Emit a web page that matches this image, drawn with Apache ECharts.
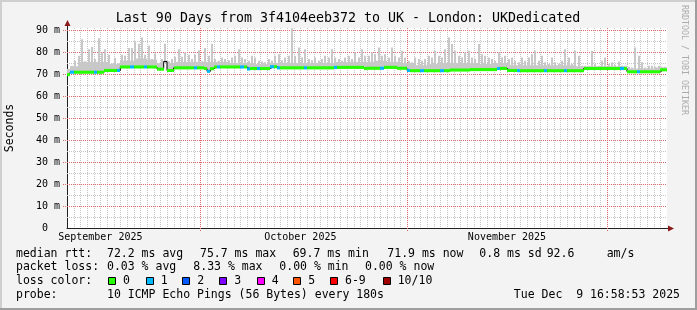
<!DOCTYPE html>
<html><head><meta charset="utf-8">
<script src="https://cdn.jsdelivr.net/npm/echarts@6/dist/echarts.min.js"></script>
<style>html,body{margin:0;padding:0;background:#f3f3f3}#c{width:697px;height:310px}</style>
</head><body><div id="c"></div><script>
// ---- time axis (days counted from Sep 1 2025 00:00) ----
const startDay = 10;     // Sep 11
const endDay = 100;      // Dec 10
const slotDays = 0.5;    // consolidation step of the rtt data below
const floorDays = 2;     // step of the smoke floor data
const monthLabels = ['September 2025', 'October 2025', 'November 2025'];
const monthLabelDays = [15, 45, 76];
const monthStartDays = [30, 61, 91];
const yGridTicks = [5, 10, 15, 20, 25, 30, 35, 40, 45, 50, 55, 60, 65, 70, 75, 80, 85, 90];
const yMajorTicks = [10, 20, 30, 40, 50, 60, 70, 80, 90];

// ---- values (ms) ----
const medianRtt = [
69.7,70.8,70.8,70.8,70.8,70.8,70.8,70.8,70.8,70.8,
70.8,71.6,71.6,71.6,71.6,71.6,73.2,73.2,73.2,73.2,
73.2,73.2,73.2,73.2,73.2,73.2,73.2,72.2,72.2,75.7,
71.6,71.6,72.8,72.8,72.8,72.8,72.8,72.8,72.8,72.8,
72.8,72.5,71.2,72.4,73.2,73.2,73.2,73.2,73.2,73.2,
73.2,73.2,73.2,73.2,72.3,72.5,72.5,72.5,72.5,72.5,
72.5,73.3,73.3,72.8,72.8,72.8,72.8,72.8,72.8,72.8,
72.8,72.8,72.8,72.8,72.8,72.8,72.8,72.8,72.8,72.8,
73.0,73.0,73.0,73.0,73.0,73.0,73.0,73.0,73.0,72.5,
72.6,72.6,72.6,72.6,72.6,73.0,73.0,73.0,73.0,72.6,
72.6,72.6,71.6,71.5,71.5,71.5,71.5,71.5,71.5,71.5,
71.5,71.5,71.5,71.5,71.5,71.8,71.8,71.8,71.8,71.8,
71.8,72.0,72.0,72.0,72.0,72.0,72.0,72.0,72.0,72.5,
72.5,72.5,71.6,71.6,71.6,71.5,71.5,71.5,71.5,71.5,
71.5,71.5,71.5,71.5,71.5,71.5,71.5,71.5,71.5,71.5,
71.5,71.5,71.5,71.5,71.5,72.5,72.5,72.5,72.5,72.5,
72.5,72.5,72.5,72.5,72.5,72.5,72.5,72.5,71.0,71.0,
71.0,71.0,71.0,71.0,71.0,71.0,71.0,71.0,71.9,71.9
];
const smokeMax = [
72.3,73.7,76.0,78.3,85.8,75.8,81.3,82.3,76.8,86.3,
79.8,81.3,78.8,74.8,77.3,74.8,78.8,78.3,81.8,81.8,
84.8,83.8,86.6,78.8,82.8,76.8,79.3,74.8,76.8,83.8,
75.8,76.8,77.8,81.3,77.8,79.8,78.8,76.8,78.8,80.8,
75.8,81.8,78.3,83.8,76.8,76.0,77.5,76.8,76.3,77.5,
78.3,81.3,77.5,76.8,76.0,78.3,77.5,76.0,75.7,75.3,
76.8,76.0,78.3,79.0,76.3,77.5,78.3,90.8,78.3,82.1,
77.5,81.3,76.8,76.3,77.5,76.0,76.8,78.3,77.5,81.3,
77.5,76.8,76.0,77.5,78.3,76.8,79.8,77.5,81.3,78.3,
78.3,79.8,79.0,82.1,78.3,79.0,77.5,82.1,78.3,77.5,
80.6,77.5,76.0,75.3,77.5,76.8,76.0,76.8,78.3,77.5,
80.6,78.3,77.5,81.3,86.6,83.6,80.6,78.3,77.5,79.8,
80.6,77.5,76.8,83.6,79.0,78.3,77.5,76.8,76.0,79.8,
77.5,78.3,76.8,77.5,76.0,75.3,77.5,76.0,77.5,79.0,
80.6,76.0,78.3,75.3,74.5,77.5,75.3,74.5,76.0,81.3,
77.5,74.5,80.6,78.3,73.7,73.7,73.7,80.6,74.5,73.7,
76.0,77.5,74.5,75.3,74.2,75.7,73.9,73.7,73.3,73.0,
82.1,78.3,75.3,73.0,73.7,73.7,73.3,73.7,73.3,73.3
];
// dense part of the smoke (top of the solid grey floor), one value per 2 days
const smokeFloor = [
73.5,75.5,75.5,74.5,76.0,77.0,76.5,75.0,75.5,75.5,
75.5,75.5,75.0,75.0,74.5,75.0,75.0,75.0,75.0,75.0,
75.5,75.5,75.5,76.0,75.5,75.0,74.0,74.5,75.0,75.0,
75.0,74.5,75.0,74.0,74.0,74.0,74.0,74.0,73.5,73.5,
73.5,73.5,72.5,72.5,73.0
];
// lost pings per slot (null = no loss band drawn)
const lossCode = [
0,1,0,0,0,0,0,0,1,0, 0,0,0,0,0,1,0,0,0,1, 0,0,0,1,0,0,0,0,0,null,
0,0,0,0,0,0,0,0,1,0, 0,0,1,0,0,1,0,0,0,0, 0,0,1,0,1,0,0,1,0,0,
0,1,0,1,0,0,0,0,0,0, 0,1,0,0,0,0,0,0,0,0, 1,0,0,0,0,0,0,0,0,0,
0,0,0,0,1,0,0,0,0,0, 0,0,1,0,0,0,1,0,0,0, 0,0,1,0,0,0,0,0,0,0,
0,0,0,0,0,0,0,0,0,1, 0,0,0,0,0,1,0,0,0,0, 0,0,0,1,0,0,0,0,0,1,
0,0,0,0,0,0,0,0,0,0, 0,0,0,0,0,0,1,0,0,0, 0,1,0,0,0,0,0,0,0,0
];
const lossColors = ['#26ff00','#00b8ff','#0059ff','#7e00ff','#ff00ff','#ff5500','#ff0000','#a10000'];
const lossLabels = ['0','1','2','3','4','5','6-9','10/10'];

const titleText = 'Last 90 Days from 3f4104eeb372 to UK - London: UKDedicated';
const rttStats = ['72.2 ms avg','75.7 ms max','69.7 ms min','71.9 ms now','0.8 ms sd','92.6','am/s'];
const lossStats = ['0.03 % avg','8.33 % max','0.00 % min','0.00 % now'];
const probeText = '10 ICMP Echo Pings (56 Bytes) every 180s';
const dateText = 'Tue Dec  9 16:58:53 2025';

// ---- build ----
const slotCenter = i => startDay + slotDays * (i + 0.5);
const perFloor = Math.round(floorDays / slotDays);
const smokeData = medianRtt.map((m, i) => [slotCenter(i), m, smokeMax[i], smokeFloor[Math.floor(i / perFloor)]]);
const lineData = medianRtt.map((m, i) => [slotCenter(i), m]);
const bandData = medianRtt.map((m, i) => [slotCenter(i), m, lossCode[i] === null ? -1 : lossCode[i]]);

const MONO = '"DejaVu Sans Mono", monospace';
const MGRID = '#e06a6a';
const GRID = '#c4c4c4';
const SMOKE = '#c8c8c8';

function rectFor(api, x, lo, hi, w) {
  const a = api.coord([x - w / 2, hi]);
  const b = api.coord([x + w / 2, lo]);
  const x0 = Math.round(a[0]), x1 = Math.round(b[0]);
  return { x: x0, y: a[1], width: Math.max(1, x1 - x0), height: b[1] - a[1] };
}

const chart = echarts.init(document.getElementById('c'), null, { renderer: 'canvas' });

function txt(x, y, text, size, extra) {
  return { type: 'text', x: x, y: y, silent: true, z: 10,
    style: Object.assign({ text: text, font: size + 'px ' + MONO, fill: '#000', align: 'left', verticalAlign: 'middle' }, extra || {}) };
}
const LF = 11.5;
const graphics = [
  { type: 'rect', z: 10, shape: { x: 0, y: 0, width: 697, height: 2 }, style: { fill: '#cfcfcf' }, silent: true },
  { type: 'rect', z: 10, shape: { x: 0, y: 0, width: 2, height: 310 }, style: { fill: '#cfcfcf' }, silent: true },
  { type: 'rect', z: 10, shape: { x: 695, y: 0, width: 2, height: 310 }, style: { fill: '#9e9e9e' }, silent: true },
  { type: 'rect', z: 10, shape: { x: 0, y: 308, width: 697, height: 2 }, style: { fill: '#9e9e9e' }, silent: true },
  txt(348, 19, titleText, 13.3, { align: 'center' }),
  Object.assign(txt(10.5, 128, 'Seconds', 11.5, { align: 'center' }), { rotation: Math.PI / 2 }),
  Object.assign(txt(684.5, 60, 'RRDTOOL / TOBI OETIKER', 8.3, { align: 'center', fill: '#acacac' }), { rotation: -Math.PI / 2 }),
  { type: 'line', z: 10, shape: { x1: 67.5, y1: 24, x2: 67.5, y2: 28 }, style: { stroke: '#202020', lineWidth: 1 }, silent: true },
  { type: 'line', z: 10, shape: { x1: 667, y1: 228.5, x2: 670, y2: 228.5 }, style: { stroke: '#202020', lineWidth: 1 }, silent: true },
  { type: 'polygon', z: 10, shape: { points: [[64.5, 26], [70.5, 26], [67.5, 20]] }, style: { fill: '#8b1a1a' }, silent: true },
  { type: 'polygon', z: 10, shape: { points: [[668, 225.5], [668, 231.5], [674, 228.5]] }, style: { fill: '#8b1a1a' }, silent: true }
];
const rttX = [107, 200, 292.7, 387.3, 479.3, 546.7, 606.7];
const lossX = [107, 193.3, 279.3, 365];
graphics.push(txt(16, 254, 'median rtt:', LF));
rttStats.forEach((s, i) => graphics.push(txt(rttX[i], 254, s, LF)));
graphics.push(txt(16, 267.5, 'packet loss:', LF));
lossStats.forEach((s, i) => graphics.push(txt(lossX[i], 267.5, s, LF)));
graphics.push(txt(16, 281, 'loss color:', LF));
const boxX = [108, 145.7, 182.3, 219.3, 256.7, 293.3, 330, 382.7];
lossColors.forEach((c, i) => {
  graphics.push({ type: 'rect', z: 10, shape: { x: Math.round(boxX[i]) + 0.5, y: 277.5, width: 7, height: 7 }, style: { fill: c, stroke: '#000', lineWidth: 1 }, silent: true });
  graphics.push(txt(boxX[i] + 15, 281, lossLabels[i], LF));
});
graphics.push(txt(16, 295, 'probe:', LF));
graphics.push(txt(107, 295, probeText, LF));
graphics.push(txt(680, 295, dateText, LF, { align: 'right' }));

chart.setOption({
  animation: false,
  backgroundColor: '#f3f3f3',
  grid: { left: 67, top: 28, width: 600, height: 200, show: true, backgroundColor: '#ffffff', borderWidth: 0 },
  xAxis: {
    type: 'value', min: startDay, max: endDay, interval: 1,
    axisLine: { show: true, lineStyle: { color: '#202020', width: 1 } },
    axisTick: { show: false },
    axisLabel: {
      margin: 4, fontSize: 10, fontFamily: MONO, color: '#000',
      formatter: v => { const r = Math.round(v); const k = monthLabelDays.indexOf(r); return (k >= 0 && Math.abs(v - r) < 1e-6) ? monthLabels[k] : ''; }
    },
    splitLine: { show: false }
  },
  yAxis: {
    type: 'value', min: 0, max: 200 / 2.2, interval: 5,
    axisLine: { show: true, lineStyle: { color: '#202020', width: 1 } },
    axisTick: { show: false },
    axisLabel: {
      margin: 7, fontSize: 10, fontFamily: MONO, color: '#000', showMaxLabel: false,
      formatter: v => { const r = Math.round(v); if (Math.abs(v - r) > 1e-6 || r % 10 !== 0) return ''; return r === 0 ? '0  ' : r + ' m'; }
    },
    splitLine: { show: false }
  },
  series: [
    {
      type: 'custom', name: 'smoke', z: 3, clip: true, silent: true,
      encode: { x: 0, y: [1, 2] },
      data: smokeData,
      renderItem: (params, api) => {
        const x = api.value(0), m = api.value(1), hi = api.value(2), fl = Math.min(api.value(3), hi);
        return { type: 'group', children: [
          { type: 'rect', shape: rectFor(api, x, m, fl, slotDays), style: { fill: SMOKE } },
          { type: 'rect', shape: rectFor(api, x, m, hi, slotDays * 0.6), style: { fill: SMOKE } }
        ] };
      }
    },
    {
      type: 'line', name: 'median', z: 4, step: 'middle', showSymbol: false, silent: true,
      data: lineData, lineStyle: { color: '#000', width: 1 }
    },
    {
      type: 'custom', name: 'loss', z: 5, clip: true, silent: true,
      encode: { x: 0, y: 1 },
      data: bandData,
      renderItem: (params, api) => {
        const code = api.value(2);
        if (code < 0) return null;
        const m = api.value(1);
        return { type: 'rect', shape: rectFor(api, api.value(0), m - 0.7, m + 0.7, slotDays), style: { fill: lossColors[code] } };
      }
    }
  ]
});

// dotted grid (daily / every 5 ms minor, month starts / every 10 ms major), placed through the chart's own scales
const gTop = chart.convertToPixel({ yAxisIndex: 0 }, 200 / 2.2);
const gBottom = chart.convertToPixel({ yAxisIndex: 0 }, 0);
const gLeft = chart.convertToPixel({ xAxisIndex: 0 }, startDay);
const gRight = chart.convertToPixel({ xAxisIndex: 0 }, endDay);
const gridLines = [];
for (let d = startDay + 1; d < endDay; d++) {
  const major = monthStartDays.includes(d);
  const x = Math.round(chart.convertToPixel({ xAxisIndex: 0 }, d)) + 0.5;
  gridLines.push({ type: 'line', z: 1, silent: true,
    shape: { x1: x, y1: gTop, x2: x, y2: major ? gBottom + 3 : gBottom },
    style: { stroke: major ? MGRID : GRID, lineWidth: 1, lineDash: [1, 1] } });
}
yGridTicks.forEach(v => {
  const major = yMajorTicks.includes(v);
  const y = Math.round(chart.convertToPixel({ yAxisIndex: 0 }, v)) + 0.5;
  gridLines.push({ type: 'line', z: 1, silent: true,
    shape: { x1: major ? gLeft - 4 : gLeft, y1: y, x2: gRight, y2: y },
    style: { stroke: major ? MGRID : GRID, lineWidth: 1, lineDash: [1, 1] } });
});
chart.setOption({ graphic: gridLines.concat(graphics) });
</script></body></html>
